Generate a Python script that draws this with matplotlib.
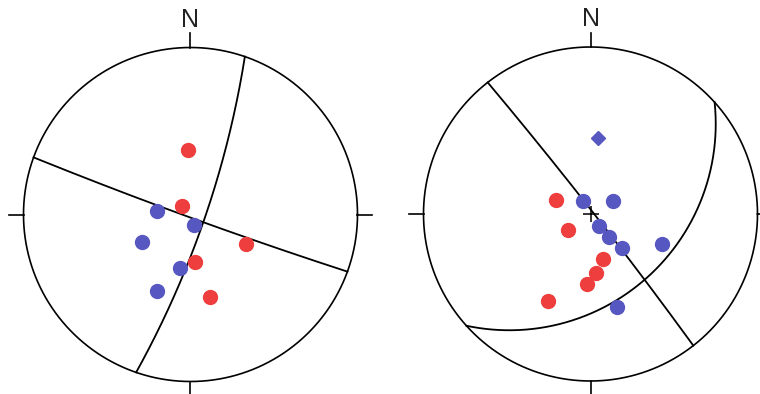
import numpy as np
import matplotlib
matplotlib.use("Agg")
import matplotlib.pyplot as plt

# Lower-hemisphere stereonet data (degrees)
# Left net: poles as (trend, plunge), nodal planes as (dip direction, dip)
left_red_trend = [358, 314, 118, 175, 167]
left_red_plunge = [48, 82, 49, 58, 36]
left_blue_trend = [276, 160, 240, 191, 204]
left_blue_plunge = [67, 82, 53, 54, 37]
left_plane_dipdir = [109, 200]
left_plane_dip = [80, 88]

# Right net
right_red_trend = [292, 235, 164, 175, 183, 206]
right_red_plunge = [65, 71, 58.5, 51, 44.5, 30]
right_blue_trend = [331, 60, 145, 141, 137, 113, 164]
right_blue_plunge = [80, 72, 80, 70, 59, 40, 30]
right_diamond_trend = [6]
right_diamond_plunge = [41]
right_plane_dipdir = [52, 138]
right_plane_dip = [88, 36]

RED = "#ee3e3e"
BLUE = "#5757c2"

W, H = 760, 394
R_PX = 167.0


def project(trend, plunge):
    """Equal-angle (Wulff) lower-hemisphere projection."""
    t = np.radians(np.asarray(trend, dtype=float))
    p = np.radians(np.asarray(plunge, dtype=float))
    r = np.tan((np.pi / 2 - p) / 2)
    return r * np.sin(t), r * np.cos(t)


def great_circle(dipdir, dip, n=361):
    dd = np.radians(dipdir)
    dp = np.radians(dip)
    s = dd - np.pi / 2
    th = np.linspace(0, np.pi, n)
    sv = np.array([np.sin(s), np.cos(s), 0.0])
    dv = np.array([np.cos(dp) * np.sin(dd), np.cos(dp) * np.cos(dd), np.sin(dp)])
    v = np.outer(np.cos(th), sv) + np.outer(np.sin(th), dv)
    trend = np.degrees(np.arctan2(v[:, 0], v[:, 1]))
    plunge = np.degrees(np.arcsin(np.clip(v[:, 2], -1, 1)))
    return project(trend, plunge)


def make_net(fig, cx, cy):
    h = 214.0
    ax = fig.add_axes([(cx - h) / W, (H - cy - h) / H, 2 * h / W, 2 * h / H])
    lim = h / R_PX
    ax.set_xlim(-lim, lim)
    ax.set_ylim(-lim, lim)
    ax.set_aspect("equal")
    ax.axis("off")
    a = np.linspace(0, 2 * np.pi, 721)
    ax.plot(np.cos(a), np.sin(a), color="black", lw=1.2, clip_on=False)
    tk = 0.085
    for dx, dy in [(0, 1), (0, -1), (1, 0), (-1, 0)]:
        ax.plot([dx, dx * (1 + tk)], [dy, dy * (1 + tk)], color="black",
                lw=1.2, clip_on=False)
    ax.text(0, 1.165, "N", ha="center", va="center", fontsize=18,
            family="Liberation Sans", color="#222222")
    return ax


fig = plt.figure(figsize=(W / 100, H / 100), dpi=100)
fig.patch.set_facecolor("white")

# Left net
axl = make_net(fig, 190.5, 214.5)
for dd, dp in zip(left_plane_dipdir, left_plane_dip):
    x, y = great_circle(dd, dp)
    axl.plot(x, y, color="black", lw=1.3)
x, y = project(left_red_trend, left_red_plunge)
axl.plot(x, y, "o", ms=10, color=RED, mec=RED, zorder=3)
x, y = project(left_blue_trend, left_blue_plunge)
axl.plot(x, y, "o", ms=10, color=BLUE, mec=BLUE, zorder=3)

# Right net
axr = make_net(fig, 590.5, 214.0)
for dd, dp in zip(right_plane_dipdir, right_plane_dip):
    x, y = great_circle(dd, dp)
    axr.plot(x, y, color="black", lw=1.3)
axr.plot([0], [0], "+", ms=11, mew=1.1, color="black", zorder=2)
x, y = project(right_red_trend, right_red_plunge)
axr.plot(x, y, "o", ms=10, color=RED, mec=RED, zorder=3)
x, y = project(right_blue_trend, right_blue_plunge)
axr.plot(x, y, "o", ms=10, color=BLUE, mec=BLUE, zorder=3)
x, y = project(right_diamond_trend, right_diamond_plunge)
axr.plot(x, y, "D", ms=7, color=BLUE, mec=BLUE, zorder=3)

fig.savefig("out.png", dpi=100, facecolor="white")
